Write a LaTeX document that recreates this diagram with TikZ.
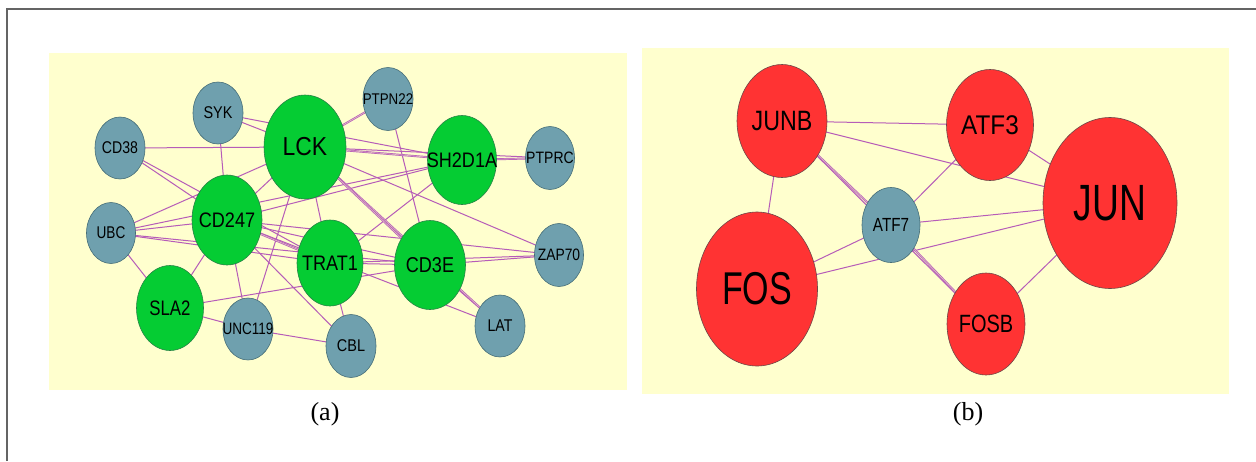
\documentclass[tikz,border=0pt]{standalone}
\usepackage{fontspec}
\usepackage{graphicx}
\setmainfont{Liberation Serif}
\newfontfamily\nodefont{Liberation Sans}
\usetikzlibrary{shapes.geometric}
\pgfdeclarelayer{bg}
\pgfdeclarelayer{edges}
\pgfsetlayers{bg,edges,main}
\definecolor{ggreen}{RGB}{5,204,51}
\definecolor{gline}{RGB}{40,130,70}
\definecolor{bblue}{RGB}{111,160,174}
\definecolor{bline}{RGB}{70,110,120}
\definecolor{rred}{RGB}{255,51,51}
\definecolor{rline}{RGB}{110,70,70}
\definecolor{pyellow}{RGB}{255,255,206}
\definecolor{ecol}{RGB}{182,92,184}
\definecolor{framec}{RGB}{100,100,100}
\newcommand\lab[3]{\makebox[0pt]{\nodefont\fontsize{#1}{#1}\selectfont\scalebox{#2}[1]{#3}}}
\tikzset{
  gnode/.style={ellipse, draw=gline, fill=ggreen, line width=0.6pt, inner sep=0pt},
  bnode/.style={ellipse, draw=bline, fill=bblue, line width=0.6pt, inner sep=0pt},
  rnode/.style={ellipse, draw=rline, fill=rred, line width=0.6pt, inner sep=0pt},
  edge/.style={draw=ecol, line width=1pt},
  dedge/.style={draw=ecol, line width=0.7pt, double=pyellow!60!ecol, double distance=0.6pt},
  panel/.style={fill=pyellow, draw=none},
  caption/.style={font=\fontsize{26}{26}\selectfont, inner sep=0pt}
}
\begin{document}
\begin{tikzpicture}[x=1pt,y=-1pt]
\useasboundingbox (0,0) rectangle (1256,461);

\begin{pgfonlayer}{bg}
\fill[white] (0,0) rectangle (1256,461);
\path[panel] (49,53) rectangle (627,390);
\path[panel] (642,48) rectangle (1229,394);
\end{pgfonlayer}
\draw[framec, line width=2pt] (7,461) -- (7,9) -- (1256,9);

% ---------- panel (a) nodes
\node[bnode, minimum width=50, minimum height=62] (SYK) at (218,113) {\lab{17}{0.85}{SYK}};
\node[bnode, minimum width=50, minimum height=62] (CD38) at (120,148) {\lab{17}{0.83}{CD38}};
\node[gnode, minimum width=82, minimum height=104] (LCK) at (305,147) {\lab{26}{0.88}{LCK}};
\node[bnode, minimum width=50, minimum height=63] (PTPN22) at (388,99) {\lab{15.5}{0.86}{PTPN22}};
\node[gnode, minimum width=69, minimum height=89] (SH2D1A) at (462,160) {\lab{21}{0.86}{SH2D1A}};
\node[bnode, minimum width=49, minimum height=63] (PTPRC) at (550,158) {\lab{16.5}{0.85}{PTPRC}};
\node[gnode, minimum width=70, minimum height=90] (CD247) at (227,220) {\lab{21}{0.86}{CD247}};
\node[bnode, minimum width=49, minimum height=61] (UBC) at (111,233) {\lab{17}{0.8}{UBC}};
\node[gnode, minimum width=67, minimum height=85] (SLA2) at (170,308) {\lab{21}{0.8}{SLA2}};
\node[bnode, minimum width=50, minimum height=62] (UNC119) at (248,329) {\lab{16.5}{0.82}{UNC119}};
\node[gnode, minimum width=66, minimum height=86] (TRAT1) at (330,263) {\lab{21}{0.86}{TRAT1}};
\node[gnode, minimum width=71, minimum height=89] (CD3E) at (430,265) {\lab{21.5}{0.84}{CD3E}};
\node[bnode, minimum width=50, minimum height=63] (CBL) at (351,346) {\lab{17}{0.85}{CBL}};
\node[bnode, minimum width=50, minimum height=62] (LAT) at (500,326) {\lab{17}{0.83}{LAT}};
\node[bnode, minimum width=49, minimum height=63] (ZAP70) at (559,255) {\lab{16.5}{0.84}{ZAP70}};

% ---------- panel (b) nodes
\node[rnode, minimum width=90, minimum height=113] (JUNB) at (782,121) {\lab{28}{0.83}{JUNB}};
\node[rnode, minimum width=121, minimum height=154] (FOS) at (757,289) {\lab{46}{0.74}{FOS}};
\node[bnode, minimum width=58, minimum height=75] (ATF7) at (891,225) {\lab{19}{0.8}{ATF7}};
\node[rnode, minimum width=87, minimum height=111] (ATF3) at (990,125) {\lab{27}{0.9}{ATF3}};
\node[rnode, minimum width=134, minimum height=171] (JUN) at (1110,203) {\lab{51}{0.73}{JUN}};
\node[rnode, minimum width=78, minimum height=102] (FOSB) at (986,324) {\lab{25}{0.8}{FOSB}};

% ---------- captions
\node[caption] (capa) at (325,414) {(a)};
\node[caption] (capb) at (968,414) {(b)};

% ---------- edges
\begin{pgfonlayer}{edges}
\foreach \a/\b in {SYK/LCK, SYK/SH2D1A, SYK/CD247,
  CD38/LCK, CD38/CD247, CD38/TRAT1,
  UBC/LCK, UBC/CD247, UBC/SH2D1A, UBC/TRAT1, UBC/CD3E, UBC/SLA2,
  SLA2/CD247, SLA2/UNC119, SLA2/CD3E,
  UNC119/CD247, UNC119/LCK, UNC119/CBL,
  CBL/CD247, CBL/TRAT1,
  CD247/LCK, CD247/CD3E, CD247/SH2D1A, CD247/ZAP70, CD247/LAT,
  LCK/TRAT1, LCK/ZAP70, LCK/PTPRC,
  PTPN22/CD3E, TRAT1/CD3E, TRAT1/ZAP70, TRAT1/SH2D1A, CD3E/ZAP70, CD3E/LAT,
  JUNB/ATF3, JUNB/JUN, JUNB/FOS, JUNB/FOSB, ATF7/ATF3, ATF7/JUN, ATF7/FOS,
  FOS/JUN, ATF3/JUN, FOSB/JUN}
  \draw[edge] (\a.center) -- (\b.center);
\foreach \a/\b in {CD247/TRAT1, LCK/LAT, LCK/CD3E, LCK/SH2D1A, LCK/PTPN22, SH2D1A/PTPRC,
  JUNB/ATF7, ATF7/FOSB}
  \draw[dedge] (\a.center) -- (\b.center);
\end{pgfonlayer}
\end{tikzpicture}
\end{document}
